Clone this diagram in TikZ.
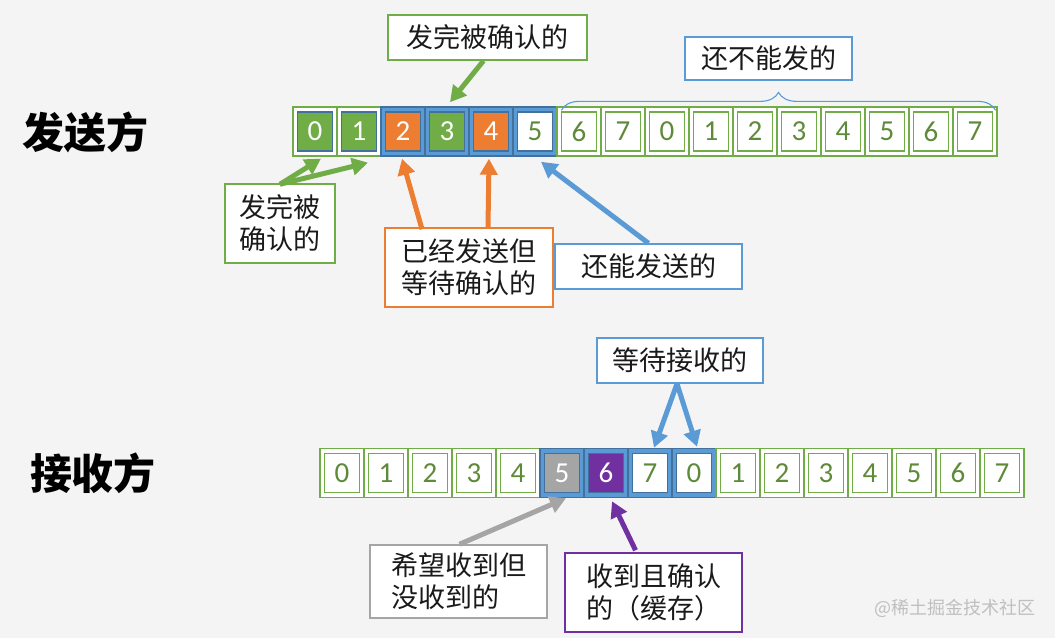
\documentclass[tikz,border=0pt]{standalone}
\usepackage{fontspec}
\setmainfont{Carlito}
\newfontfamily\numfont{Carlito}
\newfontfamily\cjk{Noto Sans CJK SC}
\usetikzlibrary{arrows.meta,calc,decorations.pathreplacing}
\definecolor{bgc}{HTML}{F4F4F4}
\definecolor{cg}{HTML}{70AD47}
\definecolor{bd}{HTML}{41719C}
\definecolor{bl}{HTML}{5B9BD5}
\definecolor{orc}{HTML}{ED7D31}
\definecolor{gyc}{HTML}{A5A5A5}
\definecolor{puc}{HTML}{7030A0}
\definecolor{numg}{HTML}{5E8A3A}
\definecolor{txt}{HTML}{1A1A1A}
\begin{document}
\begin{tikzpicture}[x=1pt,y=-1pt,
  cellg/.style={draw=cg, line width=1.3pt, fill=white, minimum width=44pt, minimum height=49pt, inner sep=0pt},
  cellb/.style={draw=bd, line width=1.5pt, fill=bl, minimum width=44pt, minimum height=49pt, inner sep=0pt},
  inn/.style={draw=cg, line width=1.3pt, fill=white, minimum width=35pt, minimum height=39pt, inner sep=0pt, font=\numfont\fontsize{29}{29}\selectfont, text=numg},
  ingrn/.style={inn, fill=cg, draw=bd, line width=1.5pt, text=white},
  inor/.style={inn, fill=orc, draw=bd, line width=1.5pt, text=white},
  inwb/.style={inn, fill=white, draw=bd, line width=1.5pt, text=numg},
  ingy/.style={inn, fill=gyc, draw=bd, line width=1.5pt, text=white},
  inpu/.style={inn, fill=puc, draw=bd, line width=1.5pt, text=white},
  lbox/.style={draw, line width=1.5pt, fill=white, inner sep=0pt, font=\cjk\fontsize{27}{32}\selectfont, text=txt, align=left},
  arr/.style={line width=5pt, -{Triangle[length=16pt,width=17pt]}},
  big/.style={font=\cjk\bfseries\fontsize{42}{42}\selectfont, text=black}
]
\fill[bgc] (0,0) rectangle (1055,638);
\useasboundingbox (0,0) rectangle (1055,638);

% sender row
\foreach \i/\os/\is in {0/cellg/ingrn,1/cellg/ingrn,2/cellb/inor,3/cellb/ingrn,4/cellb/inor,5/cellb/inwb,
  6/cellg/inn,7/cellg/inn,8/cellg/inn,9/cellg/inn,10/cellg/inn,11/cellg/inn,12/cellg/inn,13/cellg/inn,14/cellg/inn,15/cellg/inn} {
  \pgfmathtruncatemacro\n{mod(\i,8)}
  \node[\os] (s\i) at (315+44*\i,131.5) {};
  \node[\is] (si\i) at (s\i) {\n};
}
% receiver row
\foreach \i/\os/\is in {0/cellg/inn,1/cellg/inn,2/cellg/inn,3/cellg/inn,4/cellg/inn,5/cellb/ingy,6/cellb/inpu,7/cellb/inwb,8/cellb/inwb,
  9/cellg/inn,10/cellg/inn,11/cellg/inn,12/cellg/inn,13/cellg/inn,14/cellg/inn,15/cellg/inn} {
  \pgfmathtruncatemacro\n{mod(\i,8)}
  \node[\os] (r\i) at (342+44*\i,473) {};
  \node[\is] (ri\i) at (r\i) {\n};
}

% big labels
\node[big] (snd) at (85,132) {发送方};
\node[big] (rcv) at (93,473) {接收方};

% label boxes
\node[lbox, draw=cg, minimum width=199pt, minimum height=45pt] (b1) at (487.5,37.5) {发完被确认的};
\node[lbox, draw=bl, minimum width=167pt, minimum height=43pt] (b2) at (768.5,58.5) {还不能发的};
\node[lbox, draw=cg, minimum width=110pt, minimum height=79pt] (b3) at (280,223.5) {发完被\\确认的};
\node[lbox, draw=orc, minimum width=168pt, minimum height=79pt] (b4) at (469,267.5) {已经发送但\\等待确认的};
\node[lbox, draw=bl, minimum width=187pt, minimum height=45pt] (b5) at (648.5,266.5) {还能发送的};
\node[lbox, draw=bl, minimum width=166pt, minimum height=45pt] (b6) at (680,360.5) {等待接收的};
\node[lbox, draw=gyc, minimum width=177pt, minimum height=73pt] (b7) at (458.5,581.5) {希望收到但\\没收到的};
\node[lbox, draw=puc, minimum width=177pt, minimum height=79pt] (b8) at (653.5,592.5) {收到且确认\\的（缓存）};

% brace
\draw[bl, line width=1.1pt, decorate, decoration={brace, amplitude=18pt}]
  ($(s6.north west)+(5,4)$) -- ($(s15.north east)+(-2,4)$);

% arrows
\draw[arr, cg] ($(b1.south)+(-4,0)$) -- ($(s3.north)+(3,-4)$);
\draw[arr, cg] ($(b3.north)+(0,1)$) -- ($(s0.south)+(6,2)$);
\draw[arr, cg] ($(b3.north)+(0,1)$) -- ($(s1.south)+(9,6)$);
\draw[arr, orc] ($(b4.north)+(-47,2)$) -- ($(s2.south)+(-1,2)$);
\draw[arr, orc] ($(b4.north)+(19,0)$) -- ($(s4.south)+(-2,2)$);
\draw[arr, bl] (b5.north) -- ($(s5.south)+(6,5)$);
\draw[arr, bl] ($(b6.south)+(-3,0)$) -- ($(r7.north)+(4,0)$);
\draw[arr, bl] ($(b6.south)+(-3,0)$) -- ($(r8.north)+(3,-1)$);
\draw[arr, gyc] ($(b7.north)+(1,0)$) -- ($(r5.south)+(4,0)$);
\draw[arr, puc] ($(b8.north)+(-18,-2)$) -- ($(r6.south)+(6,3)$);

% watermark
\node[font=\cjk\fontsize{18}{18}\selectfont, text=black!25] (wm) at (955,608) {@稀土掘金技术社区};
\end{tikzpicture}
\end{document}
